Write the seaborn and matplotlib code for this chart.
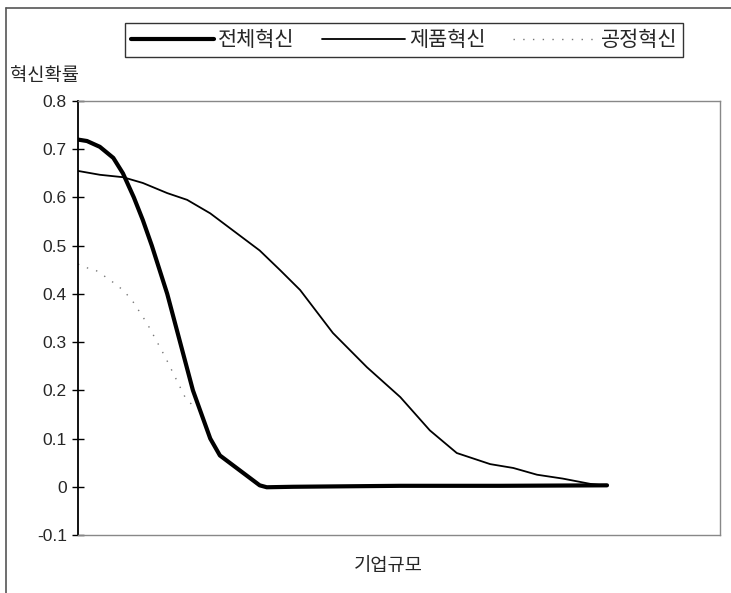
import matplotlib
matplotlib.use("Agg")
import matplotlib.pyplot as plt
from matplotlib.lines import Line2D
import seaborn as sns
import pandas as pd

sns.set_theme(style="white")
plt.rcParams['font.family'] = ['Noto Sans CJK KR', 'DejaVu Sans']

# data (x: firm size, arbitrary units 0-100)
total_x = [0, 1.4, 3.4, 5.5, 7.0, 8.7, 10.1, 11.5, 13.9, 15.9, 17.9, 20.6, 22.1, 25.2, 28.3, 29.4, 33.5, 50.2, 65.7, 82.4]
total_y = [0.72, 0.717, 0.705, 0.682, 0.65, 0.6, 0.553, 0.5, 0.4, 0.3, 0.2, 0.1, 0.065, 0.034, 0.003, -0.001, 0.0, 0.002, 0.002, 0.003]

product_x = [0, 3.4, 7.0, 10.1, 13.9, 17.0, 20.6, 24.1, 28.3, 31.5, 34.6, 39.7, 45.0, 50.2, 54.8, 59.0, 64.2, 67.8, 71.5, 75.5, 79.8, 82.4]
product_y = [0.655, 0.647, 0.642, 0.63, 0.609, 0.595, 0.567, 0.532, 0.49, 0.449, 0.408, 0.319, 0.248, 0.186, 0.117, 0.07, 0.047, 0.039, 0.025, 0.017, 0.006, 0.002]

process_x = [0, 0.78, 2.65, 4.98, 7.0, 8.41, 10.75, 13.55, 16.67, 17.76]
process_y = [0.462, 0.456, 0.45, 0.429, 0.408, 0.387, 0.339, 0.27, 0.186, 0.17]

labels = ['전체혁신', '제품혁신', '공정혁신']
yticks = [-0.1, 0, 0.1, 0.2, 0.3, 0.4, 0.5, 0.6, 0.7, 0.8]
ytick_labels = ['-0.1', '0', '0.1', '0.2', '0.3', '0.4', '0.5', '0.6', '0.7', '0.8']

fig = plt.figure(figsize=(7.31, 5.93), dpi=100)
ax = fig.add_axes([78/731, 58/593, 642/731, 434/593])

sns.lineplot(x=total_x, y=total_y, ax=ax, color='black', linewidth=3.0, label=labels[0])
sns.lineplot(x=product_x, y=product_y, ax=ax, color='black', linewidth=1.3, label=labels[1])
sns.lineplot(x=process_x, y=process_y, ax=ax, color='#777777', linewidth=1.0,
             linestyle=(0, (1, 6)), label=labels[2])

ax.set_xlim(0, 100)
ax.set_ylim(-0.1, 0.8)
ax.set_yticks(yticks)
ax.set_yticklabels(ytick_labels, fontsize=12.5, family=['Liberation Sans', 'DejaVu Sans'])
ax.set_xticks([])
ax.tick_params(axis='y', which='major', direction='inout', length=8, width=1, color='black', left=True, pad=4)
for s in ['top', 'right', 'bottom']:
    ax.spines[s].set_color('#888888')
    ax.spines[s].set_linewidth(1.0)
ax.spines['left'].set_color('black')
ax.spines['left'].set_linewidth(1.3)

ax.set_xlabel('')
ax.set_ylabel('')
fig.text(388/731, 1 - 565/593, '기업규모', ha='center', va='center', fontsize=13.5)
fig.text(10/731, 1 - 76/593, '혁신확률', ha='left', va='center', fontsize=13.5)

leg = ax.legend(loc='center', bbox_to_anchor=(404/731, 1 - 40/593),
                bbox_transform=fig.transFigure, ncol=3, frameon=True,
                fontsize=15, handlelength=4.0, handletextpad=0.2, columnspacing=1.3,
                borderaxespad=0, fancybox=False, borderpad=0.3)
leg.get_frame().set_edgecolor('black')
leg.get_frame().set_linewidth(1.0)

# outer chart-area border (partially visible)
fig.add_artist(Line2D([6/731, 1], [1 - 8/593, 1 - 8/593], color='#555555', linewidth=1.2))
fig.add_artist(Line2D([6/731, 6/731], [0, 1 - 8/593], color='#555555', linewidth=1.2))

fig.savefig('out.png', dpi=100)
